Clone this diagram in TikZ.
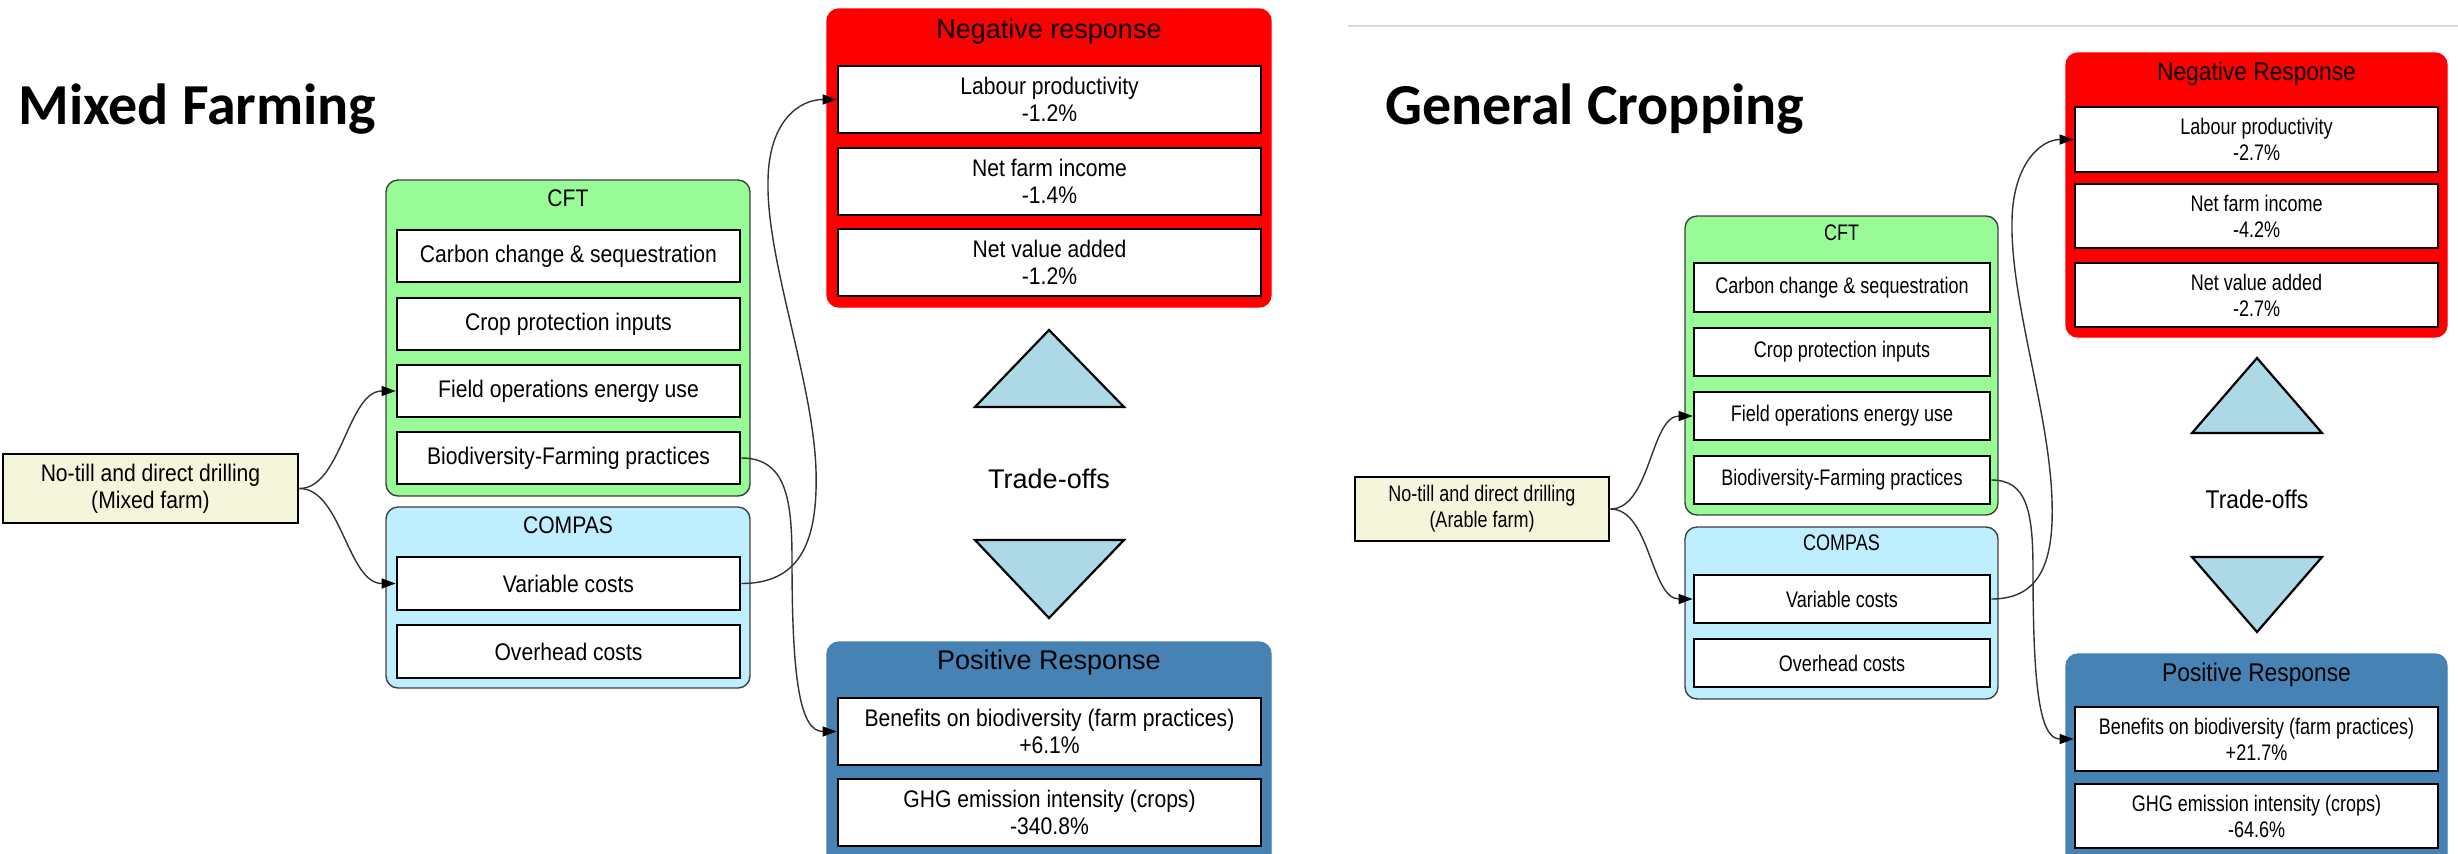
\documentclass[tikz,border=0pt]{standalone}
\usepackage{fontspec}
\setmainfont{Liberation Sans}
\newfontfamily\titlefont{Carlito}
\newfontfamily\lboxfont[FakeStretch=0.88]{Liberation Sans}
\newfontfamily\rboxfont[FakeStretch=0.80]{Liberation Sans}
\newfontfamily\rheadfont[FakeStretch=0.89]{Liberation Sans}
\usetikzlibrary{arrows.meta}

\definecolor{negred}{HTML}{FF0000}
\definecolor{posblue}{HTML}{4682B4}
\definecolor{cftgreen}{HTML}{98FB98}
\definecolor{compasblue}{HTML}{BFEFFF}
\definecolor{trifill}{HTML}{ADD8E6}
\definecolor{startbeige}{HTML}{F5F5DC}
\definecolor{edgegray}{HTML}{333333}
\definecolor{rulegray}{HTML}{DDDDDD}

\tikzset{
  ibox/.style={draw=black, fill=white, line width=1.4pt, inner sep=0pt, align=center},
  lbox/.style={ibox, font=\lboxfont\fontsize{12}{13.5}\selectfont},
  rbox/.style={ibox, font=\rboxfont\fontsize{11.25}{13}\selectfont},
  lstart/.style={lbox, fill=startbeige},
  rstart/.style={rbox, fill=startbeige},
  cluster/.style={draw=#1, rounded corners=6pt, line width=0.7pt, inner sep=0pt},
  lsub/.style={font=\lboxfont\fontsize{12}{13.5}\selectfont, inner sep=0pt},
  rsub/.style={font=\rboxfont\fontsize{11.25}{13}\selectfont, inner sep=0pt},
  lhead/.style={font=\fontsize{13.5}{15}\selectfont, inner sep=0pt},
  rhead/.style={font=\rheadfont\fontsize{12.8}{14}\selectfont, inner sep=0pt},
  bigtitle/.style={font=\titlefont\bfseries\fontsize{29}{34}\selectfont, anchor=base west, inner sep=0pt},
  tri/.style={draw=black, fill=trifill, line width=1.1pt, line join=miter},
  link/.style={draw=edgegray, line width=0.7pt, -{Triangle[length=7pt,width=5pt,color=black]}},
}

\begin{document}
\begin{tikzpicture}[x=0.5pt,y=-0.5pt]
\useasboundingbox (0,0) rectangle (2458,853);
\clip (0,0) rectangle (2458,853);
\fill[white] (0,0) rectangle (2458,853);

% ---------------- Mixed Farming ----------------
\node[bigtitle] (titleL) at (18,124) {Mixed Farming};

% response clusters
\node[cluster=negred, fill=negred, minimum width=222pt, minimum height=149pt] (negL) at (1049,158) {};
\node[lhead] (negtL) at (1049,32) {Negative response};
\node[lbox, minimum width=211.5pt, minimum height=33.5pt] (labL) at (1049.5,99.5) {Labour productivity\\-1.2\%};
\node[lbox, minimum width=211.5pt, minimum height=33.5pt] (nfiL) at (1049.5,181.5) {Net farm income\\-1.4\%};
\node[lbox, minimum width=211.5pt, minimum height=33.5pt] (nvaL) at (1049.5,262.5) {Net value added\\-1.2\%};

\node[cluster=posblue, fill=posblue, minimum width=222pt, minimum height=114pt] (posL) at (1049,756) {};
\node[lhead] (postL) at (1049,663) {Positive Response};
\node[lbox, minimum width=211.5pt, minimum height=33.5pt] (bioL) at (1049.5,731.5) {Benefits on biodiversity (farm practices)\\+6.1\%};
\node[lbox, minimum width=211.5pt, minimum height=33.5pt] (ghgL) at (1049.5,812.5) {GHG emission intensity (crops)\\-340.8\%};

% trade-off markers
\draw[tri] (975,407) -- (1049,330) -- (1124,407) -- cycle;
\draw[tri] (975,540) -- (1124,540) -- (1049,618) -- cycle;
\node[lhead] (tradeL) at (1049,479) {Trade-offs};

% model clusters
\node[cluster=black!75, fill=cftgreen, minimum width=182pt, minimum height=158pt] (cftL) at (568,338) {};
\node[lsub] (cfttL) at (568,198) {CFT};
\node[lbox, minimum width=171.5pt, minimum height=26pt] (carL) at (568.5,256) {Carbon change \& sequestration};
\node[lbox, minimum width=171.5pt, minimum height=26pt] (cpiL) at (568.5,324) {Crop protection inputs};
\node[lbox, minimum width=171.5pt, minimum height=26pt] (foeL) at (568.5,391) {Field operations energy use};
\node[lbox, minimum width=171.5pt, minimum height=26pt] (bfpL) at (568.5,458) {Biodiversity-Farming practices};

\node[cluster=black!75, fill=compasblue, minimum width=182pt, minimum height=90.5pt] (cmpL) at (568,597.5) {};
\node[lsub] (cmptL) at (568,525) {COMPAS};
\node[lbox, minimum width=171.5pt, minimum height=26.5pt] (varL) at (568.5,583.5) {Variable costs};
\node[lbox, minimum width=171.5pt, minimum height=26.5pt] (ovhL) at (568.5,651.5) {Overhead costs};

\node[lstart, minimum width=147.5pt, minimum height=34.5pt] (ntL) at (150.5,488.5) {No-till and direct drilling\\(Mixed farm)};

% connectors
\draw[link] (ntL.east) .. controls +(42,0) and +(-48,0) .. (foeL.west);
\draw[link] (ntL.east) .. controls +(42,0) and +(-48,0) .. (varL.west);
\draw[link] (varL.east) .. controls +(60,0) and (818,540) .. (816,470)
  .. controls (813,380) and (766,260) .. (768,180)
  .. controls (769,120) and (800,99.5) .. (labL.west);
\draw[link] (bfpL.east) .. controls +(45,0) and (792,500) .. (792,560)
  .. controls (792,680) and (800,731.5) .. (bioL.west);

% ---------------- General Cropping ----------------
\draw[rulegray, line width=0.8pt] (1348,26) -- (2458,26);
\node[bigtitle] (titleR) at (1385,124) {General Cropping};

\node[cluster=negred, fill=negred, minimum width=190.5pt, minimum height=142pt] (negR) at (2256.5,195) {};
\node[rhead] (negtR) at (2256.5,74) {Negative Response};
\node[rbox, minimum width=181.5pt, minimum height=32.5pt] (labR) at (2256.5,139.5) {Labour productivity\\-2.7\%};
\node[rbox, minimum width=181.5pt, minimum height=32pt] (nfiR) at (2256.5,216) {Net farm income\\-4.2\%};
\node[rbox, minimum width=181.5pt, minimum height=32pt] (nvaR) at (2256.5,295) {Net value added\\-2.7\%};

\node[cluster=posblue, fill=posblue, minimum width=190.5pt, minimum height=108pt] (posR) at (2256.5,762) {};
\node[rhead] (postR) at (2256.5,675) {Positive Response};
\node[rbox, minimum width=181.5pt, minimum height=32pt] (bioR) at (2256.5,739) {Benefits on biodiversity (farm practices)\\+21.7\%};
\node[rbox, minimum width=181.5pt, minimum height=32pt] (ghgR) at (2256.5,816) {GHG emission intensity (crops)\\-64.6\%};

\draw[tri] (2192,433) -- (2257,358) -- (2322,433) -- cycle;
\draw[tri] (2192,557) -- (2322,557) -- (2257,632) -- cycle;
\node[rhead] (tradeR) at (2257,499) {Trade-offs};

\node[cluster=black!75, fill=cftgreen, minimum width=156.5pt, minimum height=149.5pt] (cftR) at (1841.5,365.5) {};
\node[rsub] (cfttR) at (1841.5,233) {CFT};
\node[rbox, minimum width=148pt, minimum height=24.5pt] (carR) at (1842,287.5) {Carbon change \& sequestration};
\node[rbox, minimum width=148pt, minimum height=24pt] (cpiR) at (1842,352) {Crop protection inputs};
\node[rbox, minimum width=148pt, minimum height=24pt] (foeR) at (1842,416) {Field operations energy use};
\node[rbox, minimum width=148pt, minimum height=24pt] (bfpR) at (1842,480) {Biodiversity-Farming practices};

\node[cluster=black!75, fill=compasblue, minimum width=156.5pt, minimum height=86pt] (cmpR) at (1841.5,613) {};
\node[rsub] (cmptR) at (1841.5,543) {COMPAS};
\node[rbox, minimum width=148pt, minimum height=24pt] (varR) at (1842,599) {Variable costs};
\node[rbox, minimum width=148pt, minimum height=24pt] (ovhR) at (1842,663) {Overhead costs};

\node[rstart, minimum width=127pt, minimum height=32pt] (ntR) at (1482,509) {No-till and direct drilling\\(Arable farm)};

\draw[link] (ntR.east) .. controls +(40,0) and +(-42,0) .. (foeR.west);
\draw[link] (ntR.east) .. controls +(40,0) and +(-42,0) .. (varR.west);
\draw[link] (varR.east) .. controls +(50,0) and (2054,560) .. (2052,500)
  .. controls (2049,410) and (2010,300) .. (2012,220)
  .. controls (2013,165) and (2040,139.5) .. (labR.west);
\draw[link] (bfpR.east) .. controls +(35,0) and (2033,510) .. (2033,570)
  .. controls (2033,690) and (2040,739) .. (bioR.west);
\end{tikzpicture}
\end{document}
